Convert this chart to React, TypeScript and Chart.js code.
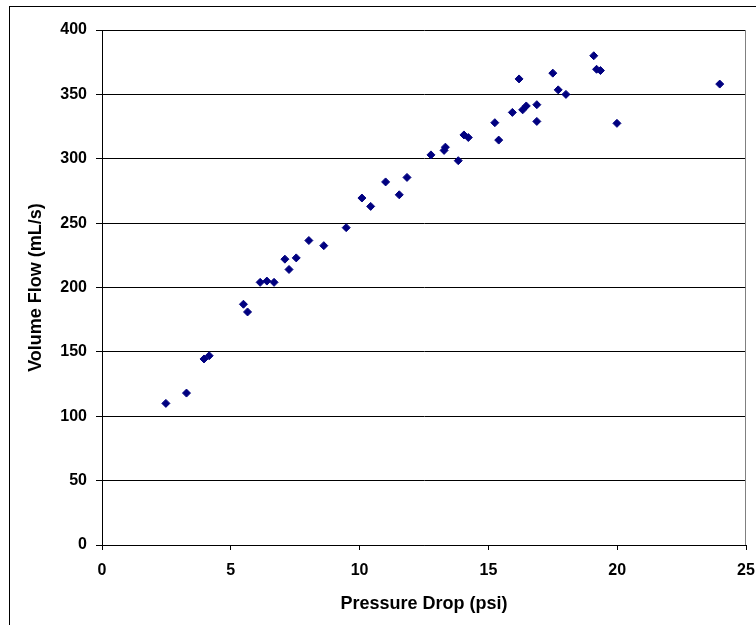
import React, { useEffect, useRef } from "react";
import { Chart, registerables } from "chart.js";

Chart.register(...registerables);

const pressureDrop: number[] = [
  2.48, 3.28, 3.96, 4.16, 5.49, 5.65, 6.14, 6.4, 6.68, 7.1, 7.26, 7.54, 8.03, 8.61,
  9.48, 10.09, 10.43, 11.01, 11.54, 11.84, 12.77, 13.28, 13.33, 13.83, 14.05, 14.22,
  15.25, 15.4, 15.93, 16.19, 16.33, 16.47, 16.88, 16.88, 17.5, 17.71, 18.01, 19.09,
  19.2, 19.35, 19.99, 23.98,
];
const volumeFlow: number[] = [
  110, 118, 144.5, 147, 187, 181, 204, 205, 204, 222, 214, 223, 236.5, 232.5,
  246.5, 269.5, 263, 282, 272, 285.5, 303, 306.5, 309, 298.5, 318.5, 316.5,
  328, 314.5, 336, 362, 338, 341, 342, 329, 366.5, 353.5, 350, 380,
  369.5, 368.5, 327.5, 358,
];
const xTitle = "Pressure Drop (psi)";
const yTitle = "Volume Flow (mL/s)";
const xMin = 0, xMax = 25, xStep = 5;
const yMin = 0, yMax = 400, yStep = 50;

const FONT = "'Liberation Sans', Arial, sans-serif";

export default function App() {
  const ref = useRef<HTMLCanvasElement | null>(null);
  useEffect(() => {
    if (!ref.current) return;
    const rightBorder = {
      id: "rightBorder",
      beforeDatasetsDraw(chart: any) {
        const { ctx, chartArea } = chart;
        ctx.save();
        ctx.strokeStyle = "#808080";
        ctx.lineWidth = 1;
        ctx.beginPath();
        ctx.moveTo(Math.round(chartArea.right) - 0.5, chartArea.top);
        ctx.lineTo(Math.round(chartArea.right) - 0.5, chartArea.bottom);
        ctx.stroke();
        ctx.restore();
      },
    };
    const chart = new Chart(ref.current, {
      type: "scatter",
      data: {
        datasets: [
          {
            data: pressureDrop.map((x, i) => ({ x, y: volumeFlow[i] })),
            pointStyle: "rectRot",
            pointRadius: 4,
            pointBorderWidth: 1,
            backgroundColor: "#000080",
            borderColor: "#000080",
          },
        ],
      },
      options: {
        animation: false,
        responsive: false,
        layout: { padding: { left: 0, right: 10, top: 30, bottom: 0 } },
        plugins: { legend: { display: false }, tooltip: { enabled: false } },
        scales: {
          x: {
            type: "linear",
            min: xMin,
            max: xMax,
            ticks: {
              stepSize: xStep,
              color: "#000",
              padding: 11,
              font: { family: FONT, size: 16, weight: "bold" },
            },
            grid: { drawOnChartArea: false, drawTicks: true, tickLength: 5, color: "#000" },
            border: { color: "#000", width: 1 },
            title: {
              display: true,
              text: xTitle,
              color: "#000",
              padding: { top: 0, bottom: 10 },
              font: { family: FONT, size: 18, weight: "bold" },
            },
            afterFit: (s: any) => {
              s.height = 80;
              s.paddingLeft = 0;
              s.paddingRight = 0;
            },
          },
          y: {
            type: "linear",
            min: yMin,
            max: yMax,
            ticks: {
              stepSize: yStep,
              color: "#000",
              padding: 9,
              font: { family: FONT, size: 16, weight: "bold" },
            },
            grid: { color: "#000", tickLength: 6, lineWidth: 1 },
            border: { color: "#000", width: 1 },
            title: {
              display: true,
              text: yTitle,
              color: "#000",
              padding: { top: 25, bottom: 0 },
              font: { family: FONT, size: 18, weight: "bold" },
            },
            afterFit: (s: any) => {
              s.width = 102;
              s.paddingTop = 0;
              s.paddingBottom = 0;
            },
          },
        },
      },
      plugins: [rightBorder],
    } as any);
    return () => chart.destroy();
  }, []);
  return (
    <div style={{ position: "absolute", left: 0, top: 0, width: 756, height: 625, overflow: "hidden", background: "#fff" }}>
      <div
        style={{
          position: "absolute",
          left: 9,
          top: 6,
          width: 780,
          height: 660,
          border: "1px solid #000",
        }}
      />
      <canvas ref={ref} width={756} height={625} style={{ position: "absolute", left: 0, top: 0, width: 756, height: 625 }} />
    </div>
  );
}
